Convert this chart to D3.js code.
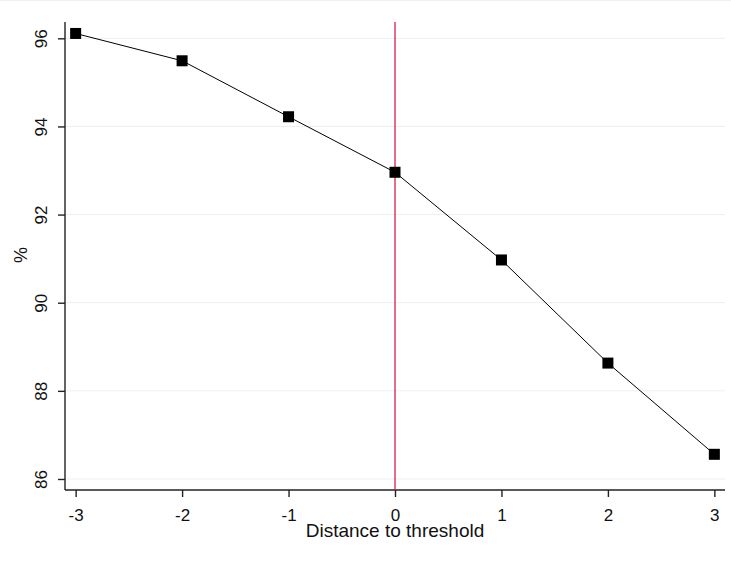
<!DOCTYPE html>
<html>
<head>
<meta charset="utf-8">
<script src="https://cdn.jsdelivr.net/npm/d3@7"></script>
<style>
  body { margin: 0; background: #fff; }
  svg { display: block; font-family: "Liberation Sans", Arial, sans-serif; }
</style>
</head>
<body>
<svg id="svg1" width="731" height="566"></svg>
<script>
var distance = [-3, -2, -1, 0, 1, 2, 3];
var percent = [96.11, 95.49, 94.22, 92.96, 90.97, 88.63, 86.56];
var yTicks = [86, 88, 90, 92, 94, 96];
var xTicks = [-3, -2, -1, 0, 1, 2, 3];
var threshold = 0;

var svg = d3.select('#svg1');

var plotLeft = 65, plotRight = 725, plotTop = 22, plotBottom = 490;

var scaleX = d3.scaleLinear().domain([-3.1, 3.1]).range([plotLeft, plotRight]);
var scaleY = d3.scaleLinear().domain([85.75, 96.37]).range([plotBottom, plotTop]);

// faint frame line at top
svg.append('line')
    .attr('x1', 0).attr('x2', 731)
    .attr('y1', 0.5).attr('y2', 0.5)
    .attr('stroke', '#eef2f6');

// gridlines
svg.selectAll('.grid')
    .data(yTicks)
    .enter()
    .append('line')
    .attr('class', 'grid')
    .attr('x1', plotLeft).attr('x2', plotRight)
    .attr('y1', function(d){ return scaleY(d); })
    .attr('y2', function(d){ return scaleY(d); })
    .attr('stroke', '#eaeff4')
    .attr('stroke-width', 1);

// y axis
var yAxis = svg.append('g')
    .attr('transform', 'translate(' + plotLeft + ',0)')
    .call(d3.axisLeft(scaleY).tickValues(yTicks).tickSize(7).tickFormat(d3.format('d')).tickSizeOuter(0));
yAxis.select('.domain').attr('stroke', '#222').attr('stroke-width', 1.4)
    .attr('d', 'M0,' + plotTop + 'V' + plotBottom);
yAxis.selectAll('.tick line').attr('stroke', '#222').attr('stroke-width', 1.4);
yAxis.selectAll('.tick text')
    .attr('x', null).attr('dy', null)
    .attr('transform', 'translate(-18,0) rotate(-90)')
    .attr('text-anchor', 'middle')
    .style('font-size', '17px')
    .attr('fill', '#111');

// x axis
var xAxis = svg.append('g')
    .attr('transform', 'translate(0,' + plotBottom + ')')
    .call(d3.axisBottom(scaleX).tickValues(xTicks).tickSize(7).tickFormat(d3.format('d')).tickSizeOuter(0));
xAxis.select('.domain').attr('stroke', '#222').attr('stroke-width', 1.4)
    .attr('d', 'M' + plotLeft + ',0H' + plotRight);
xAxis.selectAll('.tick line').attr('stroke', '#222').attr('stroke-width', 1.4);
xAxis.selectAll('.tick text')
    .attr('y', 31).attr('dy', null)
    .style('font-size', '17px')
    .attr('fill', '#111')
    .text(function(d){ return d < 0 ? '-' + Math.abs(d) : d; });

// threshold line
svg.append('line')
    .attr('x1', scaleX(threshold)).attr('x2', scaleX(threshold))
    .attr('y1', plotTop).attr('y2', plotBottom)
    .attr('stroke', '#d81e4e')
    .attr('stroke-width', 1.3);

// series line
var line = d3.line()
    .x(function(d, i){ return scaleX(distance[i]); })
    .y(function(d){ return scaleY(d); });

svg.append('path')
    .datum(percent)
    .attr('d', line)
    .attr('fill', 'none')
    .attr('stroke', '#000')
    .attr('stroke-width', 1);

svg.selectAll('.marker')
    .data(percent)
    .enter()
    .append('rect')
    .attr('class', 'marker')
    .attr('x', function(d, i){ return scaleX(distance[i]) - 5.5; })
    .attr('y', function(d){ return scaleY(d) - 5.5; })
    .attr('width', 11)
    .attr('height', 11)
    .attr('fill', '#000');

// axis titles
svg.append('text')
    .attr('x', scaleX(0))
    .attr('y', 537)
    .attr('text-anchor', 'middle')
    .style('font-size', '19px')
    .attr('fill', '#111')
    .text('Distance to threshold');

svg.append('text')
    .attr('transform', 'translate(27,255) rotate(-90)')
    .attr('text-anchor', 'middle')
    .style('font-size', '18px')
    .attr('fill', '#111')
    .text('%');
</script>
</body>
</html>
